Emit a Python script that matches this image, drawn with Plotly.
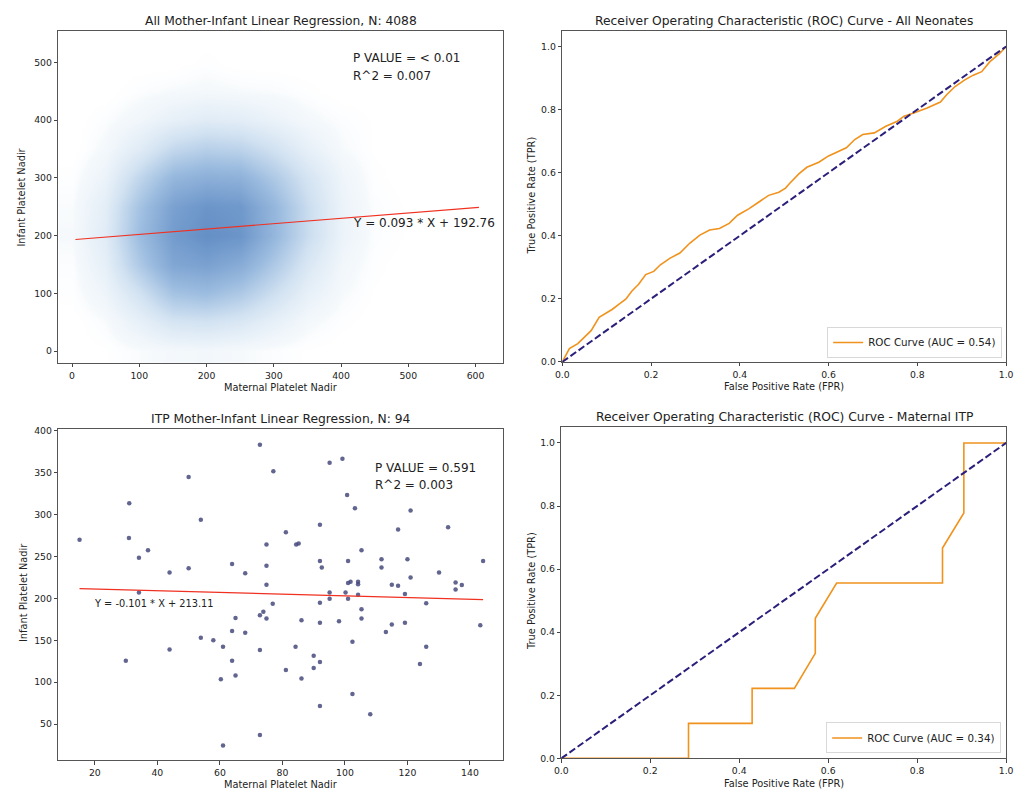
import plotly.graph_objects as go

W, H = 1021, 796
FONT = "DejaVu Sans"

# ---------------- DATA ----------------
# All mother-infant pairs (N=4088): estimated point density
all_x_centers = [0, 50, 100, 150, 200, 250, 300, 350, 400, 450, 500, 550, 600, 650]
all_y_centers = [0, 50, 100, 150, 200, 250, 300, 350, 400, 450, 500, 550]
all_density = [
    [0.00, 0.01, 0.04, 0.06, 0.07, 0.05, 0.03, 0.01, 0.00, 0.00, 0.00, 0.00, 0.00, 0.00],
    [0.00, 0.04, 0.15, 0.28, 0.30, 0.25, 0.15, 0.06, 0.02, 0.00, 0.00, 0.00, 0.00, 0.00],
    [0.02, 0.10, 0.30, 0.55, 0.60, 0.50, 0.32, 0.15, 0.05, 0.01, 0.00, 0.00, 0.00, 0.00],
    [0.03, 0.16, 0.50, 0.80, 0.85, 0.75, 0.50, 0.25, 0.08, 0.02, 0.00, 0.00, 0.00, 0.00],
    [0.05, 0.20, 0.60, 0.90, 1.00, 0.95, 0.65, 0.35, 0.12, 0.03, 0.01, 0.00, 0.00, 0.00],
    [0.04, 0.18, 0.55, 0.85, 0.95, 0.92, 0.65, 0.35, 0.12, 0.03, 0.01, 0.01, 0.01, 0.00],
    [0.02, 0.12, 0.40, 0.65, 0.72, 0.70, 0.50, 0.28, 0.10, 0.02, 0.00, 0.00, 0.00, 0.00],
    [0.00, 0.06, 0.20, 0.38, 0.45, 0.42, 0.30, 0.15, 0.05, 0.01, 0.00, 0.00, 0.00, 0.00],
    [0.00, 0.03, 0.08, 0.15, 0.20, 0.18, 0.12, 0.06, 0.03, 0.01, 0.00, 0.00, 0.00, 0.00],
    [0.00, 0.00, 0.03, 0.05, 0.06, 0.05, 0.04, 0.02, 0.00, 0.00, 0.00, 0.00, 0.00, 0.00],
    [0.00, 0.00, 0.00, 0.00, 0.02, 0.00, 0.00, 0.00, 0.00, 0.00, 0.00, 0.00, 0.00, 0.00],
    [0.00, 0.00, 0.00, 0.00, 0.00, 0.00, 0.00, 0.00, 0.00, 0.00, 0.00, 0.00, 0.00, 0.00],
]
all_maternal_range = [5, 605]
all_slope, all_intercept = 0.093, 192.76
all_title = "All Mother-Infant Linear Regression, N: 4088"
all_pvalue_text = "P VALUE = < 0.01"
all_r2_text = "R^2 = 0.007"

# ITP mother-infant pairs (N=94)
itp_maternal = [15.1, 31.0, 30.9, 34.1, 37.0, 34.1, 29.9, 43.9, 43.9, 50.0,
                50.0, 53.9, 53.9, 57.9, 61.0, 61.0, 60.3, 63.9, 63.9, 63.9,
                65.0, 65.0, 68.1, 68.1, 72.8, 72.8, 72.8, 72.8, 73.9, 74.9,
                74.9, 74.9, 74.9, 77.1, 76.9, 81.1, 81.1, 84.4, 85.2, 84.2,
                86.1, 86.1, 90.0, 90.0, 92.0, 92.0, 92.0, 92.0, 92.0, 92.0,
                95.1, 95.1, 95.1, 98.1, 99.2, 100.2, 100.7, 101.0, 101.0, 101.0,
                101.8, 102.4, 102.4, 103.2, 104.2, 104.2, 104.2, 105.3, 105.3, 105.3,
                108.1, 111.7, 111.7, 113.1, 115.0, 115.0, 117.0, 117.0, 119.2, 119.2,
                120.0, 121.0, 121.0, 124.0, 126.0, 126.0, 130.1, 133.0, 135.4, 135.4,
                137.4, 143.3, 144.2, 92.6]
itp_infant = [270, 313.5, 272, 248.6, 257.6, 207, 125.5, 231, 139, 345,
              236, 294, 153, 150, 142.4, 24.5, 103.5, 241, 161, 125.5,
              176.6, 108, 230, 159, 383.5, 180, 138.5, 37, 184, 264.3,
              239, 216.4, 176, 351.6, 193.5, 279, 114.5, 264.3, 265.5, 142.4,
              174, 104.3, 131.4, 117, 288, 244.7, 194.7, 171, 124, 71.7,
              362, 207, 199.5, 172.7, 366.6, 207, 323.3, 244.7, 218.3, 199.5,
              220, 148.3, 86, 307.6, 220, 204.2, 217, 257.6, 186.9, 176,
              61.8, 246.6, 236.8, 160, 216.4, 168.8, 282.2, 215.2, 205.3, 171,
              246.6, 304.8, 225, 121.6, 194.3, 142.4, 231, 284.8, 219, 210.5,
              216, 168, 244.7, 237]
itp_slope, itp_intercept = -0.101, 213.11
itp_title = "ITP Mother-Infant Linear Regression, N: 94"
itp_pvalue_text = "P VALUE = 0.591"
itp_r2_text = "R^2 = 0.003"

# ROC - all neonates
roc_all_fpr = [0.0, 0.002, 0.016, 0.035, 0.05, 0.065, 0.083, 0.102, 0.113, 0.128, 0.143,
               0.157, 0.172, 0.188, 0.206, 0.221, 0.243, 0.265, 0.287, 0.31, 0.332,
               0.354, 0.376, 0.395, 0.421, 0.443, 0.465, 0.488, 0.503, 0.511, 0.533,
               0.551, 0.578, 0.6, 0.625, 0.64, 0.659, 0.677, 0.703, 0.729, 0.755,
               0.77, 0.792, 0.822, 0.852, 0.866, 0.885, 0.907, 0.926, 0.945, 0.963,
               0.985, 1.0]
roc_all_tpr = [0.0, 0.005, 0.042, 0.058, 0.078, 0.099, 0.141, 0.157, 0.167, 0.183, 0.199,
               0.225, 0.246, 0.277, 0.287, 0.308, 0.329, 0.345, 0.376, 0.402, 0.418,
               0.423, 0.439, 0.465, 0.486, 0.507, 0.528, 0.538, 0.551, 0.564, 0.596,
               0.617, 0.633, 0.653, 0.669, 0.679, 0.705, 0.721, 0.726, 0.747, 0.763,
               0.779, 0.789, 0.805, 0.824, 0.847, 0.873, 0.894, 0.909, 0.92, 0.951,
               0.977, 1.0]
roc_all_title = "Receiver Operating Characteristic (ROC) Curve - All Neonates"
roc_all_label = "ROC Curve (AUC = 0.54)"

# ROC - maternal ITP
roc_itp_fpr = [0.0, 0.286, 0.286, 0.429, 0.429, 0.524, 0.571, 0.571, 0.619, 0.857, 0.857, 0.905, 0.905, 1.0]
roc_itp_tpr = [0.0, 0.0, 0.111, 0.111, 0.222, 0.222, 0.333, 0.444, 0.556, 0.556, 0.667, 0.778, 1.0, 1.0]
roc_itp_title = "Receiver Operating Characteristic (ROC) Curve - Maternal ITP"
roc_itp_label = "ROC Curve (AUC = 0.34)"

chance_line = [0, 1]

# ---------------- FIGURE ----------------
def pxx(x):
    return x / W

def pyy(y):
    return 1 - y / H

fig = go.Figure()

# Top-left: density of all points
fig.add_trace(go.Heatmap(
    x=all_x_centers, y=all_y_centers, z=all_density, zsmooth="best",
    zmin=0, zmax=1, showscale=False, hoverinfo="skip",
    colorscale=[[0, "rgba(255,255,255,0)"], [0.05, "#f5f9fc"], [0.3, "#d3e3f2"],
                [0.6, "#9dbde0"], [0.85, "#7aa1d0"], [1, "#6590c6"]],
    xaxis="x", yaxis="y"))
fig.add_trace(go.Scatter(
    x=all_maternal_range,
    y=[all_slope * v + all_intercept for v in all_maternal_range],
    mode="lines", line=dict(color="#f03020", width=1.2), showlegend=False,
    xaxis="x", yaxis="y"))

# Top-right: ROC all neonates
fig.add_trace(go.Scatter(x=roc_all_fpr, y=roc_all_tpr, mode="lines",
                         line=dict(color="#f0921c", width=1.6), name=roc_all_label,
                         legend="legend", xaxis="x2", yaxis="y2"))
fig.add_trace(go.Scatter(x=chance_line, y=chance_line, mode="lines",
                         line=dict(color="#2a1f7a", width=2, dash="7px,3px"),
                         showlegend=False, xaxis="x2", yaxis="y2"))

# Bottom-left: ITP scatter
fig.add_trace(go.Scatter(x=itp_maternal, y=itp_infant, mode="markers",
                         marker=dict(color="#454a7c", size=4.5, opacity=0.85),
                         showlegend=False, xaxis="x3", yaxis="y3"))
itp_range = [min(itp_maternal), max(itp_maternal)]
fig.add_trace(go.Scatter(
    x=itp_range, y=[itp_slope * v + itp_intercept for v in itp_range],
    mode="lines", line=dict(color="#f03020", width=1.2), showlegend=False,
    xaxis="x3", yaxis="y3"))

# Bottom-right: ROC ITP
fig.add_trace(go.Scatter(x=roc_itp_fpr, y=roc_itp_tpr, mode="lines",
                         line=dict(color="#f0921c", width=1.6), name=roc_itp_label,
                         legend="legend2", xaxis="x4", yaxis="y4"))
fig.add_trace(go.Scatter(x=chance_line, y=chance_line, mode="lines",
                         line=dict(color="#2a1f7a", width=2, dash="7px,3px"),
                         showlegend=False, xaxis="x4", yaxis="y4"))

axis_common = dict(showline=True, mirror=True, linecolor="#555", linewidth=1,
                   ticks="outside", ticklen=3.5, tickwidth=0.8, tickcolor="#444",
                   showgrid=False, zeroline=False,
                   tickfont=dict(size=9.3, color="#222", family=FONT))

dom_x_left = [pxx(52), pxx(503)]
dom_x_right = [pxx(563), pxx(1013)]
dom_y_top = [pyy(363), pyy(27)]
dom_y_bot = [pyy(765), pyy(430)]

legend_common = dict(xanchor="right", yanchor="bottom",
                     bgcolor="rgba(255,255,255,0.8)", bordercolor="#d8d8d8", borderwidth=1,
                     font=dict(size=10.3, family=FONT, color="#222"), itemwidth=30,
                     tracegroupgap=0)

fig.update_layout(
    width=W, height=H, margin=dict(l=0, r=0, t=0, b=0),
    paper_bgcolor="white", plot_bgcolor="white",
    font=dict(family=FONT, color="#222"),
    xaxis=dict(axis_common, domain=dom_x_left, range=[-20.5, 641], tickvals=[0, 100, 200, 300, 400, 500, 600], anchor="y"),
    yaxis=dict(axis_common, domain=dom_y_top, range=[-20.6, 555], tickvals=[0, 100, 200, 300, 400, 500], anchor="x"),
    xaxis2=dict(axis_common, domain=dom_x_right, range=[0, 1], tickvals=[0, 0.2, 0.4, 0.6, 0.8, 1.0], tickformat=".1f", anchor="y2"),
    yaxis2=dict(axis_common, domain=[pyy(362), pyy(27)], range=[0, 1.05], tickvals=[0, 0.2, 0.4, 0.6, 0.8, 1.0], tickformat=".1f", anchor="x2"),
    xaxis3=dict(axis_common, domain=dom_x_left, range=[8.3, 150.6], tickvals=[20, 40, 60, 80, 100, 120, 140], anchor="y3"),
    yaxis3=dict(axis_common, domain=dom_y_bot, range=[6.7, 402], tickvals=[50, 100, 150, 200, 250, 300, 350, 400], anchor="x3"),
    xaxis4=dict(axis_common, domain=[pxx(562), pxx(1013)], range=[0, 1], tickvals=[0, 0.2, 0.4, 0.6, 0.8, 1.0], tickformat=".1f", anchor="y4"),
    yaxis4=dict(axis_common, domain=[pyy(763), pyy(428)], range=[0, 1.05], tickvals=[0, 0.2, 0.4, 0.6, 0.8, 1.0], tickformat=".1f", anchor="x4"),
    legend=dict(legend_common, x=pxx(1009), y=pyy(358)),
    legend2=dict(legend_common, x=pxx(1008), y=pyy(758)),
)

ann = []
def paper_text(text, x, y, size, angle=0, xanchor="center"):
    ann.append(dict(text=text, x=pxx(x), y=pyy(y), xref="paper", yref="paper",
                    showarrow=False, textangle=angle, xanchor=xanchor, yanchor="middle",
                    font=dict(size=size, family=FONT, color="#222")))

# titles
paper_text(all_title, 277.5, 17, 12.3)
paper_text(roc_all_title, 788, 17, 12.3)
paper_text(itp_title, 277.5, 420, 12.3)
paper_text(roc_itp_title, 788, 418, 12.3)
# axis titles
paper_text("Maternal Platelet Nadir", 277.5, 388, 9.8)
paper_text("False Positive Rate (FPR)", 788, 387, 9.8)
paper_text("Maternal Platelet Nadir", 277.5, 789, 9.8)
paper_text("False Positive Rate (FPR)", 788, 788, 9.8)
paper_text("Infant Platelet Nadir", 15, 195, 9.8, angle=-90)
paper_text("True Positive Rate (TPR)", 532, 194, 9.8, angle=-90)
paper_text("Infant Platelet Nadir", 17, 595, 9.8, angle=-90)
paper_text("True Positive Rate (TPR)", 532, 594, 9.8, angle=-90)

fig.update_layout(annotations=ann)

# data-coordinate annotations
def data_text(text, x, y, size, xr, yr):
    fig.add_annotation(text=text, x=x, y=y, xref=xr, yref=yr, showarrow=False,
                       xanchor="left", yanchor="middle", borderpad=0,
                       font=dict(size=size, family=FONT, color="#222"))

data_text(all_pvalue_text, 416, 508, 12, "x", "y")
data_text(all_r2_text, 416, 477, 12, "x", "y")
data_text(f"Y = {all_slope} * X + {all_intercept}", 416, 221, 12, "x", "y")
data_text(itp_pvalue_text, 109.2, 356, 12, "x3", "y3")
data_text(itp_r2_text, 109.2, 335, 12, "x3", "y3")
data_text(f"Y = {itp_slope} * X + {itp_intercept}", 19.4, 193.6, 9.8, "x3", "y3")

fig.write_html("out.html")
